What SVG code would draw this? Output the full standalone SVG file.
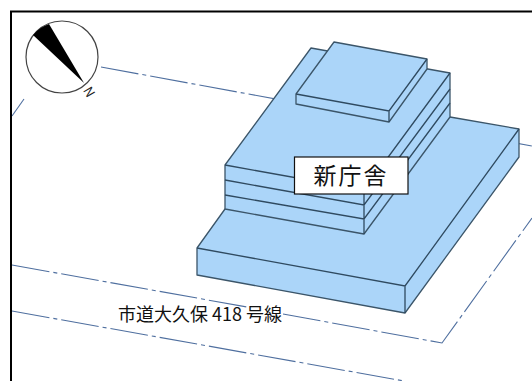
<svg xmlns="http://www.w3.org/2000/svg" width="532" height="381" viewBox="0 0 532 381">
<style>
.f{fill:#abd5f9;stroke:#3b5569;stroke-width:1.3;stroke-linejoin:round}
.e{fill:none;stroke:#2f4a60;stroke-width:1.3}
.b{fill:none;stroke:#4f6f9f;stroke-width:1.1;stroke-dasharray:38 4 4 4}
.t{font-family:"Noto Sans CJK JP",sans-serif;fill:#111}
</style>
<rect width="532" height="381" fill="#fff"/>
<g id="boundaries">
<path class="b" d="M101 67L532 146"/>
<path class="b" d="M12 116L24 99"/>
<path class="b" d="M12 265L247 307"/>
<path class="b" d="M283 314L442 343L532 218"/>
<path class="b" d="M12 311L404 381"/>
</g>
<g id="base">
<path class="f" d="M197 248L225 209L450 117L519 129V157L405 313L197 275Z"/>
<path class="e" d="M197 248L405 286L519 129M405 286V313"/>
</g>
<g id="middle">
<path class="f" d="M225 165L311 48L450 73V117L364 234L225 209Z"/>
<path class="e" d="M225 165L364 190L450 73M225 180L364 205L450 89M225 195L364 219L450 103M364 190V234"/>
</g>
<g id="top">
<path class="f" d="M334 42L427 59V69L389 122L296 104V94Z"/>
<path class="e" d="M296 94L389 111L427 59M389 111V122"/>
</g>
<g id="compass">
<circle cx="62" cy="57" r="36" fill="#fff" stroke="#444" stroke-width="1.2"/>
<path d="M33 35A36 36 0 0 1 49 24L84 83Z" fill="#000"/>
<text class="t" transform="translate(89 92) rotate(60)" y="4.500" font-size="13" text-anchor="middle" style="fill:#222">N</text>
</g>
<g id="label-building">
<rect x="294.500" y="157" width="113.500" height="37" fill="#fff" stroke="#111" stroke-width="1.200"/>
<text class="t" x="351" y="184" font-size="23" letter-spacing="2" text-anchor="middle">新庁舎</text>
</g>
<text id="label-road" class="t" x="118" y="321" font-size="18">市道大久保 418 号線</text>
<g id="frame">
<path d="M532 11.500H11V381" fill="none" stroke="#000" stroke-width="2"/>
</g>
</svg>
